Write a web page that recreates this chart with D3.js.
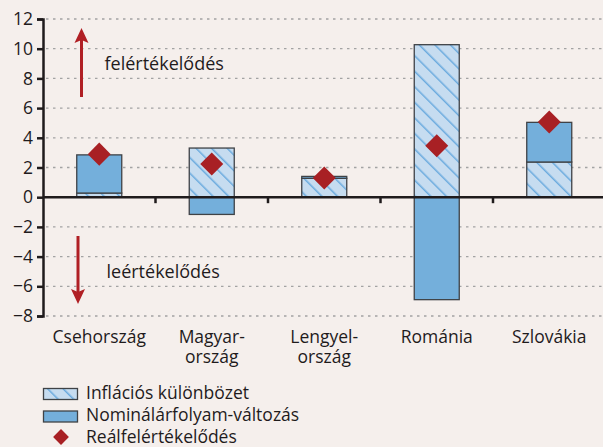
<!DOCTYPE html>
<html lang="hu">
<head>
<meta charset="UTF-8">
<title>Reálfelértékelődés</title>
<style>
  body { margin: 0; background: #f5efec; }
  svg { display: block; font-family: "Open Sans", Lato, sans-serif; }
</style>
<script src="https://d3js.org/d3.v7.min.js"></script>
</head>
<body>
<script>
  const countries = [['Csehország'], ['Magyar-', 'ország'], ['Lengyel-', 'ország'], ['Románia'], ['Szlovákia']]
  const inflation = [0.28, 3.31, 1.27, 10.27, 2.37]
  const nominal = [2.57, -1.16, 0.13, -6.9, 2.67]
  const real = [2.9, 2.24, 1.29, 3.47, 5.06]
  const yTicks = [-8, -6, -4, -2, 0, 2, 4, 6, 8, 10, 12]
  const legendLabels = ['Inflációs különbözet', 'Nominálárfolyam-változás', 'Reálfelértékelődés']

  const width = 603, height = 447
  const margin = { top: 19, left: 43, bottom: 131, right: -2.5 }
  const fontSize = 17.5
  const ink = '#1f1b1c'

  const svg = d3.select('body').append('svg').attr('width', width).attr('height', height)
  svg.append('rect').attr('width', width).attr('height', height).attr('fill', '#f5efec')

  // hatch pattern for inflation part
  const pat = svg.append('defs').append('pattern')
    .attr('id', 'hatch').attr('patternUnits', 'userSpaceOnUse')
    .attr('width', 11).attr('height', 11)
    .attr('patternTransform', 'rotate(-45)')
  pat.append('rect').attr('width', 11).attr('height', 11).attr('fill', '#c6dcf0')
  pat.append('line').attr('x1', 0).attr('y1', 0).attr('x2', 0).attr('y2', 11)
    .attr('stroke', '#6aaade').attr('stroke-width', 3)

  const keys = countries.map(c => c.join(''))
  const x = d3.scaleBand().domain(keys).range([margin.left, width - margin.right]).padding(0)
  const y = d3.scaleLinear().domain([-8, 12]).range([height - margin.bottom, margin.top])

  // gridlines
  svg.append('g').selectAll('line').data(yTicks.filter(d => d !== 0)).enter().append('line')
    .attr('x1', margin.left + 3).attr('x2', width)
    .attr('y1', d => y(d)).attr('y2', d => y(d))
    .attr('stroke', '#a3a3a3').attr('stroke-width', 1.3).attr('stroke-dasharray', '2.5,4.5')

  // stacked bars
  const rows = keys.map((k, i) => ({ key: k, inflation: inflation[i], nominal: nominal[i] }))
  const stack = d3.stack().keys(['inflation', 'nominal']).offset(d3.stackOffsetDiverging)(rows)
  const bw = x.bandwidth() * 0.4
  const fills = { inflation: 'url(#hatch)', nominal: '#74afdb' }
  stack.forEach(layer => {
    svg.append('g').selectAll('rect').data(layer).enter().append('rect')
      .attr('x', d => x(d.data.key) + (x.bandwidth() - bw) / 2)
      .attr('width', bw)
      .attr('y', d => y(Math.max(d[0], d[1])))
      .attr('height', d => Math.abs(y(d[0]) - y(d[1])))
      .attr('fill', fills[layer.key])
      .attr('stroke', '#3f4246').attr('stroke-width', 1.3)
  })

  // y axis
  const yAxis = d3.axisLeft(y).tickValues(yTicks).tickSize(6).tickPadding(4)
    .tickFormat(d => d < 0 ? '\u2212' + Math.abs(d) : d)
  const gy = svg.append('g').attr('transform', `translate(${margin.left},0)`).call(yAxis)
  gy.select('.domain').attr('stroke', ink).attr('stroke-width', 2.5)
  gy.selectAll('.tick line').attr('stroke', ink).attr('stroke-width', 2.5)
  gy.selectAll('.tick text').attr('font-size', fontSize).attr('font-family', '"Open Sans", sans-serif').attr('fill', ink)

  // zero line with category ticks
  const gx = svg.append('g')
  gx.append('line').attr('x1', margin.left).attr('x2', width).attr('y1', y(0)).attr('y2', y(0))
    .attr('stroke', ink).attr('stroke-width', 2.5)
  gx.selectAll('.sep').data(keys.slice(1)).enter().append('line')
    .attr('x1', d => x(d)).attr('x2', d => x(d))
    .attr('y1', y(0)).attr('y2', y(0) + 6)
    .attr('stroke', ink).attr('stroke-width', 2.5)

  // category labels
  const lab = svg.append('g').selectAll('text').data(countries).enter().append('text')
    .attr('x', (d, i) => x(keys[i]) + x.bandwidth() / 2)
    .attr('y', 342.5)
    .attr('text-anchor', 'middle').attr('font-size', fontSize).attr('fill', ink)
  lab.selectAll('tspan').data(d => d).enter().append('tspan')
    .attr('x', function () { return this.parentNode.getAttribute('x') })
    .attr('dy', (d, i) => i === 0 ? 0 : 20)
    .text(d => d)

  // diamonds
  const diamond = d3.symbol().type(d3.symbolSquare).size(265)
  svg.append('g').selectAll('path').data(real).enter().append('path')
    .attr('d', diamond)
    .attr('transform', (d, i) => `translate(${x(keys[i]) + x.bandwidth() / 2},${y(d)}) rotate(45)`)
    .attr('fill', '#a82024')

  // arrows
  const red = '#b01f24'
  function arrow(x0, yFrom, yTo) {
    const dir = yTo < yFrom ? 1 : -1
    svg.append('line').attr('x1', x0).attr('x2', x0).attr('y1', yFrom).attr('y2', yTo + dir * 12)
      .attr('stroke', red).attr('stroke-width', 3)
    svg.append('path')
      .attr('d', `M${x0},${yTo} L${x0 - 7},${yTo + dir * 15} L${x0},${yTo + dir * 12} L${x0 + 7},${yTo + dir * 15} Z`)
      .attr('fill', red)
  }
  arrow(81.5, 97, 28)
  arrow(78, 236, 304)
  svg.append('text').attr('x', 104.5).attr('y', 70).attr('font-size', 18).attr('fill', ink).text('felértékelődés')
  svg.append('text').attr('x', 106.5).attr('y', 278).attr('font-size', 18).attr('fill', ink).text('leértékelődés')

  // legend
  const lg = svg.append('g')
  const swFills = ['url(#hatch)', '#74afdb']
  swFills.forEach((f, i) => {
    lg.append('rect').attr('x', 43.5).attr('y', 388.5 + i * 22.5).attr('width', 34).attr('height', 11)
      .attr('fill', f).attr('stroke', '#3f4246').attr('stroke-width', 1.3)
  })
  lg.append('path').attr('d', d3.symbol().type(d3.symbolSquare).size(125))
    .attr('transform', 'translate(61,437) rotate(45)').attr('fill', '#a82024')
  lg.selectAll('text').data(legendLabels).enter().append('text')
    .attr('x', 86).attr('y', (d, i) => 399 + i * 22.2)
    .attr('font-size', fontSize).attr('fill', ink)
    .text(d => d)
</script>
</body>
</html>
